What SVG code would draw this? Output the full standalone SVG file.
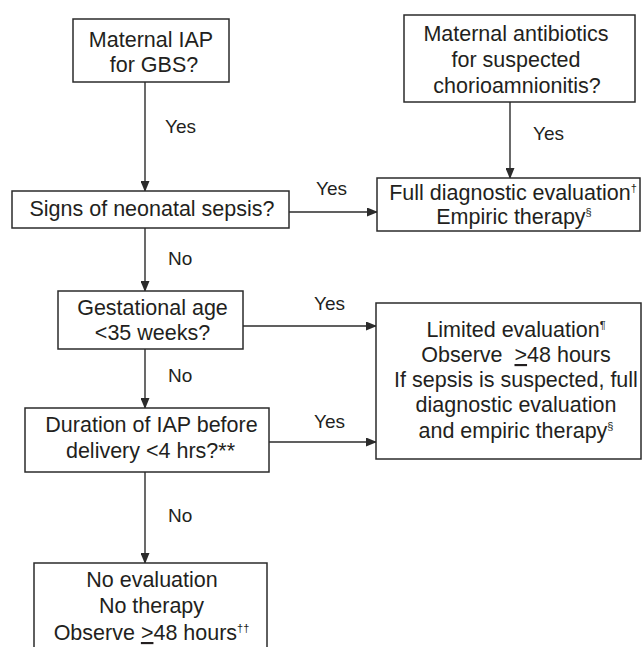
<svg xmlns="http://www.w3.org/2000/svg" width="642" height="647" viewBox="0 0 642 647">
<style>
.box{fill:#fff;stroke:#2b2b2b;stroke-width:1.5}
.t{font-family:"Liberation Sans",Arial,sans-serif;font-size:21.5px;fill:#231f20;text-anchor:middle}
.l{font-family:"Liberation Sans",Arial,sans-serif;font-size:19px;fill:#231f20}
.sup{font-size:11px}
.c{stroke:#2b2b2b;stroke-width:1.4;fill:none}
</style>
<defs>
<marker id="ah" markerUnits="userSpaceOnUse" markerWidth="11" markerHeight="9" refX="10" refY="4.5" orient="auto">
<path d="M0,0 L11,4.5 L0,9 z" fill="#2b2b2b"/>
</marker>
</defs>
<rect width="642" height="647" fill="#fff"/>
<g id="connectors">
<line class="c" x1="145" y1="82" x2="145" y2="191" marker-end="url(#ah)"/>
<line class="c" x1="510" y1="102" x2="510" y2="178" marker-end="url(#ah)"/>
<line class="c" x1="289" y1="212" x2="377" y2="212" marker-end="url(#ah)"/>
<line class="c" x1="145" y1="228" x2="145" y2="291" marker-end="url(#ah)"/>
<line class="c" x1="243" y1="326" x2="376" y2="326" marker-end="url(#ah)"/>
<line class="c" x1="145" y1="349" x2="145" y2="408" marker-end="url(#ah)"/>
<line class="c" x1="269" y1="442" x2="376" y2="442" marker-end="url(#ah)"/>
<line class="c" x1="145" y1="472" x2="145" y2="563" marker-end="url(#ah)"/>
<text class="l" x="165" y="133">Yes</text>
<text class="l" x="533" y="140">Yes</text>
<text class="l" x="316" y="195">Yes</text>
<text class="l" x="168" y="265">No</text>
<text class="l" x="314" y="310">Yes</text>
<text class="l" x="168" y="382">No</text>
<text class="l" x="314" y="428">Yes</text>
<text class="l" x="168" y="522">No</text>
</g>
<g id="n1">
<rect class="box" x="73" y="19" width="156" height="63"/>
<text class="t" x="151" y="47">Maternal IAP</text>
<text class="t" x="154" y="72">for GBS?</text>
</g>
<g id="n2">
<rect class="box" x="404" y="15" width="231" height="87"/>
<text class="t" x="516" y="41">Maternal antibiotics</text>
<text class="t" x="516" y="67">for suspected</text>
<text class="t" x="517" y="93">chorioamnionitis?</text>
</g>
<g id="n3">
<rect class="box" x="12" y="191" width="277" height="37"/>
<text class="t" x="152" y="216">Signs of neonatal sepsis?</text>
</g>
<g id="n4">
<rect class="box" x="377" y="178" width="263" height="53"/>
<text class="t" x="513" y="200">Full diagnostic evaluation<tspan class="sup" dy="-8">†</tspan></text>
<text class="t" x="514" y="224">Empiric therapy<tspan class="sup" dy="-8">§</tspan></text>
</g>
<g id="n5">
<rect class="box" x="58" y="291" width="185" height="58"/>
<text class="t" x="152.5" y="315">Gestational age</text>
<text class="t" x="152.5" y="340">&lt;35 weeks?</text>
</g>
<g id="n6">
<rect class="box" x="376" y="303" width="265" height="156"/>
<text class="t" x="516" y="337">Limited evaluation<tspan class="sup" dy="-8">¶</tspan></text>
<text class="t" x="516" y="362">Observe&#160; <tspan text-decoration="underline">&gt;</tspan>48 hours</text>
<text class="t" x="516" y="387">If sepsis is suspected, full</text>
<text class="t" x="516" y="412">diagnostic evaluation</text>
<text class="t" x="516" y="438">and empiric therapy<tspan class="sup" dy="-8">§</tspan></text>
</g>
<g id="n7">
<rect class="box" x="25" y="408" width="244" height="64"/>
<text class="t" x="151.5" y="432">Duration of IAP before</text>
<text class="t" x="150.5" y="458">delivery &lt;4 hrs?**</text>
</g>
<g id="n8">
<rect class="box" x="34" y="563" width="233" height="100"/>
<text class="t" x="152" y="587">No evaluation</text>
<text class="t" x="151.5" y="613">No therapy</text>
<text class="t" x="151.5" y="640">Observe <tspan text-decoration="underline">&gt;</tspan>48 hours<tspan class="sup" dy="-8">††</tspan></text>
</g>
</svg>
